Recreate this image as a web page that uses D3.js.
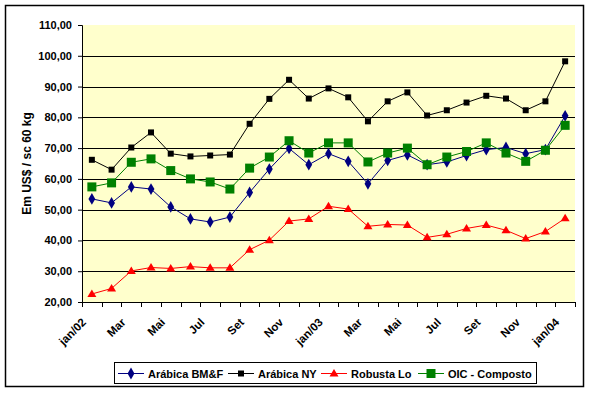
<!DOCTYPE html>
<html>
<head>
<meta charset="utf-8">
<script src="https://cdn.jsdelivr.net/npm/d3@7"></script>
<style>
  body { margin: 0; background: #fff; }
  text { font-family: "Liberation Sans", Arial, sans-serif; font-weight: bold; fill: #000; }
</style>
</head>
<body>
<svg id="chart" width="590" height="393"></svg>
<script>
var months = ["jan/02","fev/02","Mar","abr/02","Mai","jun/02","Jul","ago/02","Set","out/02","Nov","dez/02",
              "jan/03","fev/03","Mar","abr/03","Mai","jun/03","Jul","ago/03","Set","out/03","Nov","dez/03","jan/04"];
var arabicaBMF = [53.5,52.2,57.4,56.7,50.9,47.0,46.0,47.6,55.6,63.2,69.9,64.6,68.2,65.7,58.4,66.0,67.8,64.6,65.5,67.6,69.5,70.2,68.2,69.5,80.5];
var arabicaNY  = [66.2,63.0,70.2,75.1,68.2,67.3,67.6,67.9,77.9,86.0,92.2,86.1,89.4,86.5,78.7,85.2,88.1,80.6,82.3,84.8,87.0,86.1,82.3,85.2,98.2];
var robustaLo  = [22.6,24.4,30.1,31.2,30.9,31.5,31.1,31.1,37.0,40.1,46.3,47.0,51.1,50.2,44.6,45.2,45.0,41.0,42.0,43.9,45.0,43.3,40.6,42.9,47.2];
var oicComposto= [57.4,58.7,65.4,66.5,62.7,60.0,59.0,56.7,63.5,67.1,72.4,68.4,71.7,71.7,65.5,68.4,70.0,64.6,67.1,68.9,71.7,68.4,65.7,69.3,77.4];
var yTicks = [20,30,40,50,60,70,80,90,100,110];

var series = [
  {name: "Arábica BM&F", values: arabicaBMF, color: "#000080", marker: "diamond"},
  {name: "Arábica NY", values: arabicaNY, color: "#000000", marker: "square"},
  {name: "Robusta Lo", values: robustaLo, color: "#FF0000", marker: "triangle"},
  {name: "OIC - Composto", values: oicComposto, color: "#008000", marker: "bigsquare"}
];

var svg = d3.select("#chart"),
    margin = {top: 25, right: 15, bottom: 91, left: 82},
    width = 575 - margin.left,
    height = 302 - margin.top;

var ptBR = d3.formatLocale({decimal: ",", thousands: ".", grouping: [3], currency: ["R$", ""]});
var fmt = ptBR.format(".2f");

// outer frame
svg.append("rect")
    .attr("x", 5.5).attr("y", 5.5)
    .attr("width", 578).attr("height", 381)
    .attr("fill", "#fff").attr("stroke", "#000").attr("stroke-width", 1.5);

var g = svg.append("g")
    .attr("transform", "translate(" + margin.left + "," + margin.top + ")");

var x = d3.scaleBand()
    .domain(d3.range(months.length))
    .range([0, width])
    .padding(0);

var y = d3.scaleLinear()
    .domain([20, 110])
    .range([height, 0]);

g.append("rect")
    .attr("width", width)
    .attr("height", height)
    .attr("fill", "#FFFFCC");

// gridlines
g.selectAll(".grid")
    .data(yTicks.filter(function(d) { return d > 20 && d < 110; }))
    .enter().append("line")
    .attr("x1", 0).attr("x2", width)
    .attr("y1", function(d) { return Math.round(y(d)) + 0.5; })
    .attr("y2", function(d) { return Math.round(y(d)) + 0.5; })
    .attr("stroke", "#000").attr("stroke-width", 1);

// y axis
var yAxis = g.append("g")
    .call(d3.axisLeft(y).tickValues(yTicks).tickSize(4).tickPadding(6).tickFormat(fmt));
yAxis.selectAll("text").style("font-size", "11px").attr("font-family", null);
yAxis.selectAll("path, line").attr("stroke", "#000");

// x axis: ticks at band boundaries
var xAxis = g.append("g").attr("transform", "translate(0," + height + ")");
xAxis.append("line")
    .attr("x1", 0).attr("x2", width).attr("y1", 0.5).attr("y2", 0.5)
    .attr("stroke", "#000");
xAxis.selectAll(".tk")
    .data(d3.range(months.length + 1))
    .enter().append("line")
    .attr("x1", function(d) { return Math.round(d * x.bandwidth()) + 0.5; })
    .attr("x2", function(d) { return Math.round(d * x.bandwidth()) + 0.5; })
    .attr("y1", 0).attr("y2", 5)
    .attr("stroke", "#000");
xAxis.selectAll(".lbl")
    .data(d3.range(0, months.length, 2))
    .enter().append("text")
    .attr("transform", function(d) {
      return "translate(" + (x(d) + x.bandwidth() / 2 - 5) + ",21) rotate(-45)";
    })
    .attr("text-anchor", "end")
    .style("font-size", "11.5px")
    .text(function(d) { return months[d]; });

// y title
svg.append("text")
    .attr("transform", "translate(31," + (margin.top + height / 2) + ") rotate(-90)")
    .attr("text-anchor", "middle")
    .style("font-size", "12px")
    .text("Em US$ / sc 60 kg");

var line = d3.line()
    .x(function(d, i) { return x(i) + x.bandwidth() / 2; })
    .y(function(d) { return y(d); });

function markerPath(type) {
  if (type === "diamond") return d3.symbol(d3.symbolDiamond, 40)();
  if (type === "triangle") return "M0,-4.5L4.5,3L-4.5,3Z";
  if (type === "square") return "M-3,-3H3V3H-3Z";
  return "M-4.5,-4.5H4.5V4.5H-4.5Z";
}

series.forEach(function(s) {
  g.append("path")
      .datum(s.values)
      .attr("fill", "none")
      .attr("stroke", s.color)
      .attr("stroke-width", 1)
      .attr("d", line);
  g.selectAll(null)
      .data(s.values)
      .enter().append("path")
      .attr("transform", function(d, i) { return "translate(" + (x(i) + x.bandwidth() / 2) + "," + y(d) + ")"; })
      .attr("d", markerPath(s.marker))
      .attr("fill", s.color);
});

// legend
var legend = svg.append("g");
legend.append("rect")
    .attr("x", 114.5).attr("y", 362.5)
    .attr("width", 422).attr("height", 21)
    .attr("fill", "#fff").attr("stroke", "#000");
var legendX = [118, 228, 321, 418];
series.forEach(function(s, i) {
  var lg = legend.append("g").attr("transform", "translate(" + legendX[i] + ",373)");
  lg.append("line").attr("x1", 0).attr("x2", 26).attr("y1", 0.5).attr("y2", 0.5).attr("stroke", s.color);
  lg.append("path").attr("transform", "translate(13,0.5)").attr("d", markerPath(s.marker)).attr("fill", s.color);
  lg.append("text").attr("x", 30).attr("y", 4.5).style("font-size", "11px").text(s.name);
});
</script>
</body>
</html>
